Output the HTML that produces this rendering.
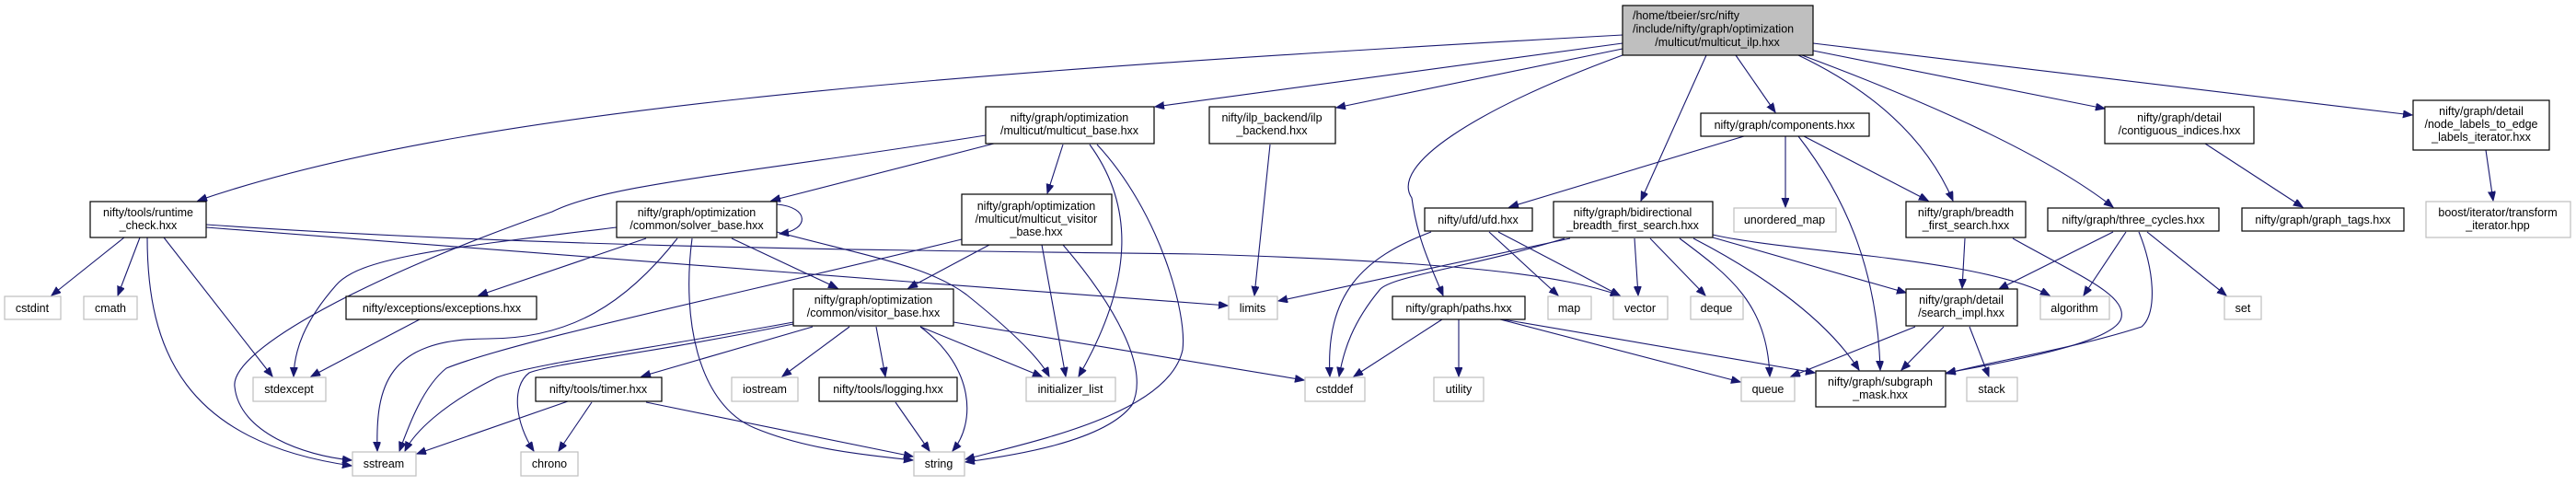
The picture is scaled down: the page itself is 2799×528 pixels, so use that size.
<!DOCTYPE html>
<html><head><meta charset="utf-8"><style>
html,body{margin:0;padding:0;background:#fff;}
svg{display:block;}
text{font-family:"Liberation Sans",Arial,sans-serif;font-size:12.5px;fill:#000;text-anchor:middle;}
.b{fill:#fff;stroke:#000;stroke-width:1.2;}
.g{fill:#fff;stroke:#bfbfbf;stroke-width:1.2;}
.e{fill:none;stroke:#191970;stroke-width:1.1;}
</style></head><body>
<svg width="2799" height="528" viewBox="0 0 2799 528" xmlns="http://www.w3.org/2000/svg">
<defs><marker id="a" markerUnits="userSpaceOnUse" markerWidth="12" markerHeight="10" refX="10" refY="4" orient="auto"><path d="M0,0 L10,4 L0,8 Z" fill="#191970" stroke="#191970"/></marker></defs>
<g class="e" marker-end="url(#a)">
<path d="M1763,38 C1000,80 500,120 215,218"/>
<path d="M1763,47 L1255,116"/>
<path d="M1763,53 L1452,117"/>
<path d="M1763,60 C1600,120 1510,180 1534,215 C1540,260 1555,290 1568,321"/>
<path d="M1854,60 L1783,218"/>
<path d="M1886,60 L1929,122"/>
<path d="M1954,60 Q2080,120 2122,218"/>
<path d="M1958,60 Q2200,150 2296,225"/>
<path d="M1970,55 L2287,118"/>
<path d="M1970,47 L2621,125"/>
<path d="M1080,156 L838,218"/>
<path d="M1071,147 C800,190 660,200 600,230 C400,300 250,380 255,420 C260,470 330,495 382,500"/>
<path d="M160,258 C160,380 200,480 382,506"/>
<path d="M135,258 L56,321"/>
<path d="M152,258 L128,321"/>
<path d="M178,258 L296,409"/>
<path d="M224,244 C600,270 1000,272 1300,276 C1600,285 1700,300 1760,321"/>
<path d="M224,247 L1000,307 L1334,332"/>
<path d="M844,222 C880,225 880,250 847,254"/>
<path d="M702,259 L520,321"/>
<path d="M670,247 C480,270 390,280 365,310 C330,350 320,380 319,409"/>
<path d="M736,259 C680,330 620,368 530,368 C420,368 408,420 410,490"/>
<path d="M752,259 C740,350 760,440 820,465 C880,490 950,495 992,500"/>
<path d="M795,259 L910,313"/>
<path d="M844,252 C950,280 1010,290 1050,320 C1100,360 1130,390 1140,409"/>
<path d="M862,350 C700,380 580,395 540,410 C480,440 450,470 440,490"/>
<path d="M862,352 C700,385 600,395 575,405 C555,420 560,460 580,490"/>
<path d="M883,355 L697,409"/>
<path d="M923,355 L850,409"/>
<path d="M952,355 L962,409"/>
<path d="M1000,355 L1132,409"/>
<path d="M1000,355 C1060,400 1060,460 1035,490"/>
<path d="M1036,350 L1417,413"/>
<path d="M456,347 L338,409"/>
<path d="M617,436 L453,493"/>
<path d="M643,437 L607,490"/>
<path d="M702,437 L992,496"/>
<path d="M973,437 L1010,490"/>
<path d="M1075,266 L987,313"/>
<path d="M1132,266 L1158,409"/>
<path d="M1155,266 C1210,330 1250,400 1230,440 C1200,480 1100,495 1049,502"/>
<path d="M1045,260 C800,320 560,370 485,400 C460,420 445,460 434,490"/>
<path d="M1155,157 L1138,210"/>
<path d="M1184,157 C1230,220 1235,300 1172,409"/>
<path d="M1192,157 C1260,230 1290,340 1285,380 C1270,450 1120,480 1049,499"/>
<path d="M1380,157 L1363,321"/>
<path d="M1706,259 L1389,327"/>
<path d="M1700,259 C1600,290 1510,300 1499,315 C1470,350 1460,380 1455,409"/>
<path d="M1555,252 C1480,280 1440,320 1445,409"/>
<path d="M1618,252 L1693,321"/>
<path d="M1628,252 L1760,321"/>
<path d="M1776,259 L1780,321"/>
<path d="M1793,259 L1853,321"/>
<path d="M1825,259 C1880,300 1920,330 1923,409"/>
<path d="M1840,259 C1900,290 1980,340 2020,402"/>
<path d="M1861,258 L2071,318"/>
<path d="M1861,255 C1950,275 2150,280 2227,321"/>
<path d="M1567,347 L1471,409"/>
<path d="M1585,347 L1585,409"/>
<path d="M1630,347 L1891,415"/>
<path d="M1633,347 L1972,405"/>
<path d="M1895,148 L1640,225"/>
<path d="M1940,148 L1940,225"/>
<path d="M1960,148 L2095,218"/>
<path d="M1954,148 C2010,220 2040,300 2043,402"/>
<path d="M2135,259 L2132,313"/>
<path d="M2187,259 C2260,300 2310,320 2305,345 C2300,370 2200,390 2115,405"/>
<path d="M2296,252 L2172,314"/>
<path d="M2310,252 L2264,321"/>
<path d="M2333,252 L2419,321"/>
<path d="M2324,252 C2340,290 2345,340 2327,355 C2250,380 2150,395 2115,406"/>
<path d="M2081,355 L1946,409"/>
<path d="M2112,355 L2066,402"/>
<path d="M2140,355 L2161,409"/>
<path d="M2396,156 L2502,225"/>
<path d="M2701,163 L2709,218"/>
</g>
<!-- nodes -->
<rect x="1763" y="6" width="207" height="54" fill="#bfbfbf" stroke="#000" stroke-width="1.2"/>
<text x="1774" y="21" style="text-anchor:start">/home/tbeier/src/nifty</text>
<text x="1774" y="35.5" style="text-anchor:start">/include/nifty/graph/optimization</text>
<text x="1866" y="50">/multicut/multicut_ilp.hxx</text>

<rect class="b" x="98" y="219" width="126" height="39"/><text x="161" y="235">nifty/tools/runtime</text><text x="161" y="249">_check.hxx</text>
<rect class="b" x="670" y="219" width="174" height="39"/><text x="757" y="235">nifty/graph/optimization</text><text x="757" y="249">/common/solver_base.hxx</text>
<rect class="b" x="1071" y="116" width="183" height="40"/><text x="1162" y="132">nifty/graph/optimization</text><text x="1162" y="146">/multicut/multicut_base.hxx</text>
<rect class="b" x="1314" y="116" width="137" height="40"/><text x="1382" y="132">nifty/ilp_backend/ilp</text><text x="1382" y="146">_backend.hxx</text>
<rect class="b" x="1045" y="211" width="163" height="55"/><text x="1126" y="228">nifty/graph/optimization</text><text x="1126" y="242">/multicut/multicut_visitor</text><text x="1126" y="256">_base.hxx</text>
<rect class="b" x="862" y="314" width="174" height="40"/><text x="949" y="330">nifty/graph/optimization</text><text x="949" y="344">/common/visitor_base.hxx</text>
<rect class="b" x="376" y="322" width="207" height="25"/><text x="480" y="339">nifty/exceptions/exceptions.hxx</text>
<rect class="g" x="5" y="322" width="61" height="25"/><text x="35" y="339">cstdint</text>
<rect class="g" x="91" y="322" width="58" height="25"/><text x="120" y="339">cmath</text>
<rect class="g" x="275" y="410" width="79" height="26"/><text x="314" y="427">stdexcept</text>
<rect class="g" x="383" y="491" width="69" height="26"/><text x="417" y="508">sstream</text>
<rect class="g" x="566" y="491" width="62" height="26"/><text x="597" y="508">chrono</text>
<rect class="b" x="582" y="410" width="137" height="26"/><text x="650" y="427">nifty/tools/timer.hxx</text>
<rect class="g" x="795" y="410" width="72" height="26"/><text x="831" y="427">iostream</text>
<rect class="b" x="890" y="410" width="150" height="26"/><text x="965" y="427">nifty/tools/logging.hxx</text>
<rect class="g" x="993" y="491" width="55" height="26"/><text x="1020" y="508">string</text>
<rect class="g" x="1115" y="410" width="97" height="26"/><text x="1163" y="427">initializer_list</text>
<rect class="g" x="1335" y="322" width="53" height="25"/><text x="1361" y="339">limits</text>
<rect class="g" x="1418" y="410" width="65" height="26"/><text x="1450" y="427">cstddef</text>
<rect class="g" x="1558" y="410" width="54" height="26"/><text x="1585" y="427">utility</text>
<rect class="b" x="1513" y="322" width="144" height="25"/><text x="1585" y="339">nifty/graph/paths.hxx</text>
<rect class="b" x="1548" y="226" width="117" height="25"/><text x="1606" y="243">nifty/ufd/ufd.hxx</text>
<rect class="g" x="1682" y="322" width="47" height="25"/><text x="1705" y="339">map</text>
<rect class="g" x="1753" y="322" width="59" height="25"/><text x="1782" y="339">vector</text>
<rect class="g" x="1837" y="322" width="57" height="25"/><text x="1865" y="339">deque</text>
<rect class="b" x="1688" y="219" width="173" height="39"/><text x="1774" y="235">nifty/graph/bidirectional</text><text x="1774" y="249">_breadth_first_search.hxx</text>
<rect class="b" x="1848" y="123" width="183" height="25"/><text x="1939" y="140">nifty/graph/components.hxx</text>
<rect class="g" x="1884" y="226" width="111" height="26"/><text x="1939" y="243">unordered_map</text>
<rect class="g" x="1892" y="410" width="58" height="26"/><text x="1921" y="427">queue</text>
<rect class="b" x="2071" y="219" width="130" height="39"/><text x="2136" y="235">nifty/graph/breadth</text><text x="2136" y="249">_first_search.hxx</text>
<rect class="b" x="2225" y="226" width="186" height="25"/><text x="2318" y="243">nifty/graph/three_cycles.hxx</text>
<rect class="b" x="2436" y="226" width="176" height="25"/><text x="2524" y="243">nifty/graph/graph_tags.hxx</text>
<rect class="b" x="2287" y="116" width="162" height="40"/><text x="2368" y="132">nifty/graph/detail</text><text x="2368" y="146">/contiguous_indices.hxx</text>
<rect class="b" x="2622" y="109" width="148" height="54"/><text x="2696" y="125">nifty/graph/detail</text><text x="2696" y="139">/node_labels_to_edge</text><text x="2696" y="153">_labels_iterator.hxx</text>
<rect class="g" x="2636" y="219" width="157" height="39"/><text x="2714" y="235">boost/iterator/transform</text><text x="2714" y="249">_iterator.hpp</text>
<rect class="g" x="2417" y="322" width="40" height="25"/><text x="2437" y="339">set</text>
<rect class="b" x="2071" y="314" width="121" height="40"/><text x="2131" y="330">nifty/graph/detail</text><text x="2131" y="344">/search_impl.hxx</text>
<rect class="g" x="2217" y="322" width="75" height="25"/><text x="2254" y="339">algorithm</text>
<rect class="b" x="1973" y="403" width="141" height="39"/><text x="2043" y="419">nifty/graph/subgraph</text><text x="2043" y="433">_mask.hxx</text>
<rect class="g" x="2137" y="410" width="55" height="26"/><text x="2164" y="427">stack</text>
</svg>
</body></html>
